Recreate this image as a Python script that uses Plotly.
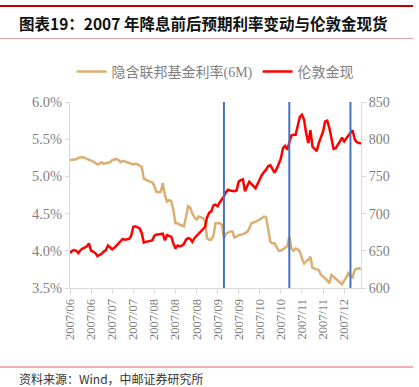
import pandas as pd
import plotly.graph_objects as go

# ---------------- data ----------------
start_date = "2007-06-07"
n_points = 139
dates = pd.bdate_range(start_date, periods=n_points)
date_labels = [d.strftime("%Y/%m") for d in dates]

libor_6m = [
    5.22, 5.22, 5.22, 5.23, 5.25, 5.26, 5.26, 5.25, 5.24, 5.23,
    5.22, 5.20, 5.18, 5.16, 5.17, 5.19, 5.17, 5.18, 5.18, 5.19,
    5.22, 5.23, 5.235, 5.22, 5.19, 5.21, 5.20, 5.195, 5.19, 5.18,
    5.16, 5.17, 5.165, 5.14, 5.13, 4.97, 4.95, 4.94, 4.93, 4.92,
    4.87, 4.79, 4.79, 4.79, 4.91, 4.75, 4.66, 4.68, 4.67, 4.55,
    4.37, 4.37, 4.35, 4.34, 4.33, 4.45, 4.60, 4.58, 4.50, 4.45,
    4.42, 4.46, 4.45, 4.44, 4.40, 4.17, 4.15, 4.15, 4.20, 4.37,
    4.37, 4.37, 4.35, 4.17, 4.23, 4.25, 4.26, 4.26, 4.18, 4.19,
    4.21, 4.215, 4.22, 4.24, 4.25, 4.30, 4.37, 4.38, 4.39, 4.40,
    4.42, 4.44, 4.46, 4.45, 4.31, 4.12, 4.10, 4.10, 4.05, 4.00,
    4.00, 4.02, 4.04, 4.06, 4.19, 4.03, 4.00, 4.03, 4.02, 3.99,
    3.90, 3.83, 3.86, 3.88, 3.92, 3.77, 3.76, 3.75, 3.74, 3.68,
    3.66, 3.63, 3.60, 3.565, 3.675, 3.65, 3.63, 3.61, 3.58, 3.55,
    3.60, 3.64, 3.70, 3.66, 3.64, 3.74, 3.76, 3.765, 3.755,
]

gold_spot = [
    647, 650, 651, 650, 647, 651, 653, 655, 656, 660,
    650, 649, 647, 643, 644, 646, 649, 651, 657, 654,
    652, 654, 657, 660, 663, 666, 665, 665, 666, 670,
    682, 683, 682, 680, 674, 661, 662, 663, 664, 664,
    670, 672, 672, 672, 673, 664, 671, 670, 669, 660,
    653, 657, 656, 657, 659, 665, 667, 666, 662, 667,
    670, 673, 676, 679, 682, 695, 701, 703, 711, 712,
    710, 715, 719, 723, 729, 732, 731, 730, 730, 731,
    743, 745, 746, 730, 737, 743, 740, 737, 734, 740,
    747, 752, 756, 759, 764, 765, 760, 755, 760, 768,
    774, 788, 791, 786, 795, 805, 806, 806, 818, 830,
    833, 826, 808, 795, 812, 790, 787, 784, 795, 804,
    810, 824, 825, 815, 800, 787, 788, 792, 797, 802,
    797, 801, 805, 808, 812, 800, 796, 795, 794,
]

rate_cut_dates = ["2007-09-18", "2007-10-31", "2007-12-11"]

series_names = ["隐含联邦基金利率(6M)", "伦敦金现"]
title_text = "图表19：2007 年降息前后预期利率变动与伦敦金现货"
source_text = "资料来源：Wind，中邮证券研究所"

left_ticks = [3.5, 4.0, 4.5, 5.0, 5.5, 6.0]
right_ticks = [600, 650, 700, 750, 800, 850]
tick_step = 10

# ---------------- styles ----------------
W, H = 419, 387
L, R, T, B = 70, 58, 102, 99
TAN = "#DBAE72"
RED = "#FF0000"
BLUE = "#4472C4"
GRAY_TXT = "#7F7F7F"
AXIS = "#D9D9D9"
CJK = "Noto Sans CJK SC"
SERIF = "Liberation Serif, Noto Sans CJK SC"

pw = W - L - R
ph = H - T - B


def px_x(x):
    return (x - L) / pw


def px_y(y):
    return 1 - (y - T) / ph


idx = list(range(n_points))
date_pos = {d.strftime("%Y-%m-%d"): i for i, d in enumerate(dates)}

fig = go.Figure()
fig.add_trace(go.Scatter(
    x=idx, y=libor_6m, mode="lines", name=series_names[0],
    line=dict(color=TAN, width=2.5), yaxis="y",
))
fig.add_trace(go.Scatter(
    x=idx, y=gold_spot, mode="lines", name=series_names[1],
    line=dict(color=RED, width=2.5), yaxis="y2",
))

shapes = []
for d in rate_cut_dates:
    shapes.append(dict(type="line", xref="x", yref="paper", x0=date_pos[d], x1=date_pos[d],
                       y0=0, y1=1, line=dict(color=BLUE, width=2), layer="above"))
# decorative header / footer rules
shapes.append(dict(type="line", xref="paper", yref="paper", x0=px_x(0), x1=px_x(413),
                   y0=px_y(6), y1=px_y(6), line=dict(color="#C00000", width=2)))
shapes.append(dict(type="line", xref="paper", yref="paper", x0=px_x(0), x1=px_x(413),
                   y0=px_y(38.5), y1=px_y(38.5), line=dict(color="#E8A0A0", width=1.2)))
shapes.append(dict(type="line", xref="paper", yref="paper", x0=px_x(0), x1=px_x(413),
                   y0=px_y(367), y1=px_y(367), line=dict(color="#E06666", width=1)))

annotations = [
    dict(text="<b>" + title_text + "</b>", xref="paper", yref="paper",
         x=px_x(17), y=px_y(23), xanchor="left", yanchor="middle", showarrow=False,
         font=dict(family=CJK, size=15.5, color="#111111")),
    dict(text=source_text, xref="paper", yref="paper",
         x=px_x(17), y=px_y(378), xanchor="left", yanchor="middle", showarrow=False,
         font=dict(family=CJK, size=12, color="#333333")),
]

fig.update_layout(
    width=W, height=H,
    margin=dict(l=L, r=R, t=T, b=B, pad=0),
    paper_bgcolor="white", plot_bgcolor="white",
    showlegend=True,
    legend=dict(orientation="h", x=0.5, xanchor="center", y=px_y(72), yanchor="middle",
                font=dict(family=SERIF, size=14, color=GRAY_TXT),
                itemwidth=30, bgcolor="rgba(0,0,0,0)", tracegroupgap=0),
    xaxis=dict(
        range=[0, n_points - 1], tickmode="array",
        tickvals=idx[::tick_step], ticktext=date_labels[::tick_step],
        tickangle=-90, ticks="outside", ticklen=5, tickcolor=AXIS,
        showline=True, linecolor=AXIS, linewidth=1, showgrid=False, zeroline=False,
        tickfont=dict(family=SERIF, size=12.5, color=GRAY_TXT),
    ),
    yaxis=dict(
        range=[3.5, 6.0], tickmode="array", tickvals=left_ticks,
        ticktext=[f"{v:.1f}%" for v in left_ticks],
        ticks="outside", ticklen=4, tickcolor=AXIS,
        showline=True, linecolor=AXIS, linewidth=1, showgrid=False, zeroline=False,
        tickfont=dict(family=SERIF, size=14.5, color=GRAY_TXT),
    ),
    yaxis2=dict(
        range=[600, 850], tickmode="array", tickvals=right_ticks,
        ticktext=[str(v) for v in right_ticks],
        overlaying="y", side="right",
        ticks="outside", ticklen=4, tickcolor=AXIS,
        showline=True, linecolor=AXIS, linewidth=1, showgrid=False, zeroline=False,
        tickfont=dict(family=SERIF, size=14, color=GRAY_TXT),
    ),
    shapes=shapes,
    annotations=annotations,
)

fig.write_html(
    "out.html",
    config={"displayModeBar": False},
    post_script="document.body.style.margin='0';document.body.style.overflow='hidden';",
)
